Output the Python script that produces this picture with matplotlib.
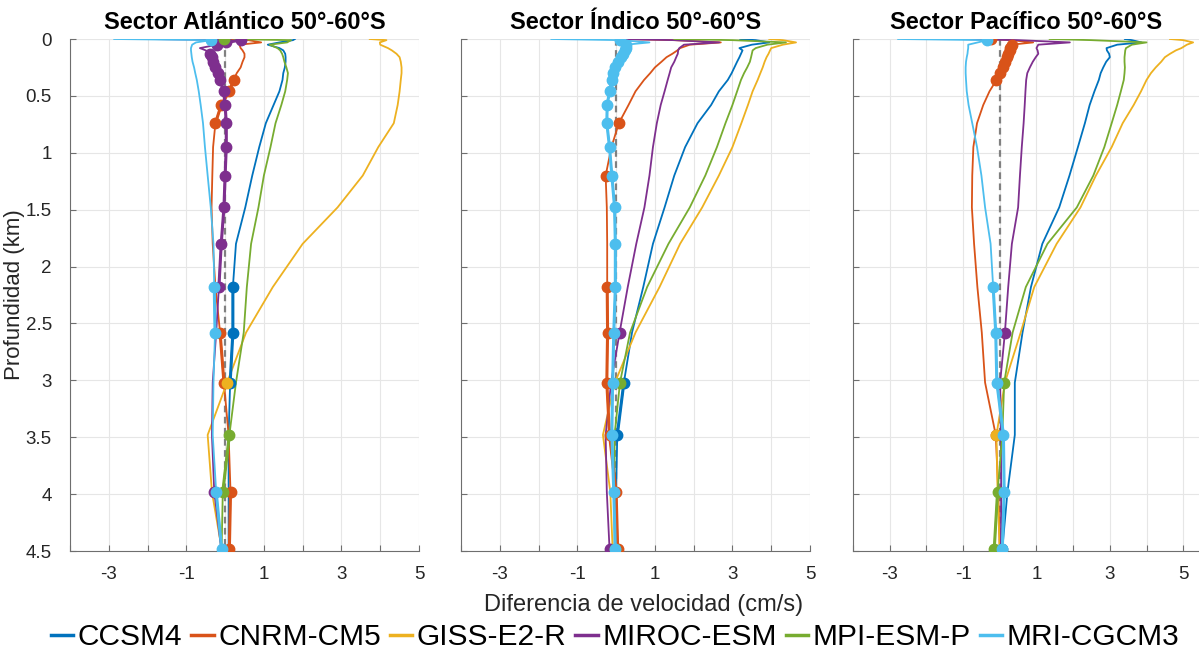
import numpy as np
import matplotlib
matplotlib.use('Agg')
import matplotlib.pyplot as plt
from matplotlib.lines import Line2D

plt.rcParams['font.family'] = ['Liberation Sans', 'DejaVu Sans']

# Profundidades de los niveles (km)
depth = [0, 0.01, 0.03, 0.05, 0.08, 0.1, 0.13, 0.16, 0.2, 0.25, 0.3, 0.36, 0.46,
         0.58, 0.74, 0.95, 1.2, 1.48, 1.8, 2.18, 2.58, 3.02, 3.48, 3.98, 4.48]

models = ['CCSM4', 'CNRM-CM5', 'GISS-E2-R', 'MIROC-ESM', 'MPI-ESM-P', 'MRI-CGCM3']
colors = ['#0072BD', '#D95319', '#EDB120', '#7E2F8E', '#77AC30', '#4DBEEE']
titles = ['Sector Atlántico 50°-60°S', 'Sector Índico 50°-60°S', 'Sector Pacífico 50°-60°S']

# Sector Atlántico
atl_ccsm4 = [1.8, 1.75, 1.4, 1.1, 1.4, 1.5, 1.55, 1.56, 1.56, 1.54, 1.5, 1.48, 1.4, 1.25, 1.05, 0.88, 0.7, 0.52, 0.28, 0.2, 0.2, 0.13, 0.09, 0.09, 0.09]
atl_cnrm = [0.05, 0.6, 0.93, 0.37, 0.4, 0.45, 0.5, 0.5, 0.45, 0.4, 0.3, 0.22, 0.11, -0.1, -0.25, -0.31, -0.33, -0.35, -0.32, -0.25, -0.13, -0.03, 0.09, 0.14, 0.11]
atl_giss = [3.73, 4.16, 3.99, 4.0, 4.2, 4.3, 4.42, 4.5, 4.53, 4.55, 4.55, 4.53, 4.5, 4.45, 4.35, 3.95, 3.55, 2.9, 2.0, 1.23, 0.54, 0.05, -0.45, -0.34, -0.09]
atl_miroc = [-2.0, 0.4, 0.03, -0.2, -0.65, -0.5, -0.38, -0.33, -0.3, -0.25, -0.19, -0.13, -0.04, 0.0, 0.03, 0.03, 0.0, -0.03, -0.1, -0.16, -0.23, -0.32, -0.34, -0.28, -0.1]
atl_mpi = [-0.04, 1.7, 1.6, 1.15, 1.35, 1.42, 1.47, 1.5, 1.53, 1.58, 1.62, 1.6, 1.55, 1.45, 1.3, 1.17, 1.0, 0.86, 0.67, 0.56, 0.48, 0.28, 0.11, -0.06, -0.09]
atl_mri = [-2.86, -0.36, -0.75, -0.85, -0.88, -0.88, -0.87, -0.86, -0.84, -0.8, -0.77, -0.73, -0.68, -0.63, -0.57, -0.52, -0.45, -0.37, -0.3, -0.28, -0.26, -0.3, -0.32, -0.23, -0.09]

# Sector Índico
ind_ccsm4 = [3.2, 3.6, 3.95, 3.5, 3.18, 3.26, 3.22, 3.18, 3.12, 3.05, 2.98, 2.88, 2.65, 2.45, 2.1, 1.78, 1.5, 1.25, 0.95, 0.7, 0.41, 0.2, 0.03, 0.0, 0.0]
ind_cnrm = [0.1, 1.5, 2.7, 1.9, 1.65, 1.58, 1.45, 1.3, 1.17, 1.0, 0.88, 0.72, 0.5, 0.32, 0.07, -0.12, -0.27, -0.24, -0.23, -0.23, -0.22, -0.24, -0.17, 0.0, 0.04]
ind_giss = [3.95, 4.3, 4.64, 4.3, 4.0, 3.97, 3.93, 3.88, 3.83, 3.78, 3.72, 3.65, 3.52, 3.4, 3.23, 3.0, 2.65, 2.22, 1.65, 1.12, 0.5, -0.03, -0.34, -0.15, -0.09]
ind_miroc = [0.1, 1.5, 2.66, 1.75, 1.63, 1.6, 1.59, 1.55, 1.5, 1.42, 1.38, 1.33, 1.25, 1.15, 1.05, 0.95, 0.86, 0.73, 0.52, 0.3, 0.09, -0.13, -0.27, -0.24, -0.17]
ind_mpi = [1.5, 3.0, 4.38, 3.9, 3.6, 3.52, 3.5, 3.48, 3.45, 3.38, 3.3, 3.22, 3.12, 3.0, 2.82, 2.6, 2.3, 1.9, 1.35, 0.8, 0.36, 0.1, -0.04, -0.04, -0.04]
ind_mri = [-1.67, 0.09, 0.86, 0.26, 0.26, 0.23, 0.17, 0.12, 0.06, -0.03, -0.09, -0.11, -0.17, -0.23, -0.24, -0.17, -0.11, -0.04, -0.02, -0.02, -0.06, -0.09, -0.11, -0.06, -0.02]

# Sector Pacífico
pac_ccsm4 = [3.41, 3.6, 3.86, 3.2, 2.91, 2.92, 2.98, 3.0, 2.9, 2.82, 2.75, 2.7, 2.58, 2.45, 2.32, 2.13, 1.9, 1.62, 1.16, 0.85, 0.62, 0.41, 0.41, 0.21, 0.07]
pac_cnrm = [-0.25, 0.3, 0.91, 0.32, 0.29, 0.27, 0.23, 0.19, 0.15, 0.08, 0.01, -0.09, -0.28, -0.45, -0.62, -0.72, -0.75, -0.76, -0.7, -0.61, -0.49, -0.4, -0.11, -0.04, 0.0]
pac_giss = [4.64, 5.0, 5.27, 5.1, 4.95, 4.8, 4.64, 4.5, 4.4, 4.25, 4.12, 4.0, 3.85, 3.65, 3.35, 3.05, 2.62, 2.2, 1.55, 0.94, 0.57, 0.14, -0.09, -0.06, 0.0]
pac_miroc = [-1.18, 0.5, 1.91, 1.05, 1.0, 1.03, 1.05, 0.98, 0.9, 0.82, 0.75, 0.72, 0.7, 0.68, 0.65, 0.6, 0.55, 0.5, 0.33, 0.23, 0.14, 0.01, 0.03, 0.04, 0.03]
pac_mpi = [1.36, 2.5, 4.0, 3.6, 3.44, 3.42, 3.41, 3.4, 3.4, 3.41, 3.4, 3.38, 3.3, 3.2, 3.05, 2.85, 2.55, 2.1, 1.3, 0.71, 0.35, 0.12, 0.07, -0.06, -0.15]
pac_mri = [-2.77, -0.34, -0.6, -0.86, -0.86, -0.87, -0.88, -0.9, -0.92, -0.93, -0.93, -0.92, -0.9, -0.85, -0.75, -0.62, -0.5, -0.4, -0.25, -0.18, -0.11, -0.08, 0.1, 0.12, 0.07]

# Niveles marcados con punto (indices en depth)
atl_dots = [[19, 20, 21], [0, 11, 12, 13, 14, 20, 21, 23, 24], [21],
            [1, 2, 3] + list(range(6, 20)) + [23], [0, 22, 23], [1, 19, 20, 23, 24]]
ind_dots = [[21, 22], [14, 16, 19, 20, 21, 22, 23, 24], [],
            [20, 24], [21, 24], [1] + list(range(3, 25))]
pac_dots = [[24], [0] + list(range(3, 12)) + [22], [22],
            [20], [21, 23, 24], [1] + list(range(19, 25))]

sectors = [
    [atl_ccsm4, atl_cnrm, atl_giss, atl_miroc, atl_mpi, atl_mri],
    [ind_ccsm4, ind_cnrm, ind_giss, ind_miroc, ind_mpi, ind_mri],
    [pac_ccsm4, pac_cnrm, pac_giss, pac_miroc, pac_mpi, pac_mri],
]
dots = [atl_dots, ind_dots, pac_dots]

W, H = 1199, 658
fig = plt.figure(figsize=(W / 100, H / 100), dpi=100)

lefts = [70, 461, 853]
widths = [349, 349, 346]
xmax = [5, 5, 5.43]
z = np.array(depth)

for k in range(3):
    ax = fig.add_axes([lefts[k] / W, (H - 551) / H, widths[k] / W, 512 / H])
    ax.plot([0, 0], [0, 4.5], color='#808080', ls=(0, (3, 2)), lw=1.6, zorder=1)
    for m in range(6):
        x = np.array(sectors[k][m])
        ax.plot(x, z, color=colors[m], lw=1.3, zorder=2)
        mask = np.zeros(len(z), dtype=bool)
        mask[dots[k][m]] = True
        xm = np.where(mask, x, np.nan)
        ax.plot(xm, z, color=colors[m], lw=2.2, marker='o', ms=7.5,
                mec=colors[m], zorder=3)
    ax.set_xlim(-4, xmax[k])
    ax.set_ylim(4.5, 0)
    xt = list(range(-4, 6))
    ax.set_xticks(xt)
    ax.set_xticklabels([str(v) if v % 2 else '' for v in xt])
    yt = np.arange(0, 4.51, 0.5)
    ax.set_yticks(yt)
    if k == 0:
        ax.set_yticklabels(['%g' % v for v in yt])
        ax.set_ylabel('Profundidad (km)', fontsize=16, color='#262626')
        ax.yaxis.set_label_coords(-0.128, 0.5)
    else:
        ax.set_yticklabels([])
    ax.grid(True, color='#e6e6e6', lw=0.8)
    ax.set_axisbelow(True)
    ax.tick_params(direction='in', length=4, colors='#6e6e6e', labelcolor='#262626',
                   labelsize=13.5)
    ax.tick_params(axis='x', pad=11)
    ax.tick_params(axis='y', pad=13)
    for s in ['top', 'right']:
        ax.spines[s].set_visible(False)
    for s in ['left', 'bottom']:
        ax.spines[s].set_color('#6e6e6e')
    ax.set_title(titles[k], fontsize=17, fontweight='bold', pad=7)

fig.text(0.5365, 1 - 605 / H, 'Diferencia de velocidad (cm/s)', ha='center',
         va='center', fontsize=17, color='#262626')

handles = [Line2D([], [], color=c, lw=2.5) for c in colors]
fig.legend(handles, models, loc='center', bbox_to_anchor=(0.513, 1 - 637 / H),
           ncol=6, frameon=False, fontsize=21.5, handlelength=0.75,
           handletextpad=0.15, columnspacing=0.3)

fig.savefig('out.png', dpi=100)
